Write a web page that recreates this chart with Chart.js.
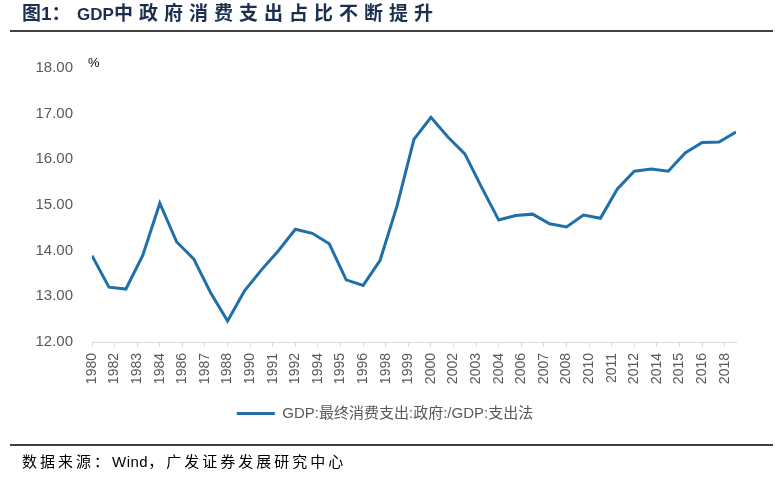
<!DOCTYPE html>
<html>
<head>
<meta charset="utf-8">
<script src="https://cdn.jsdelivr.net/npm/chart.js@4.4.1/dist/chart.umd.min.js"></script>
<style>
  html, body { margin: 0; padding: 0; background: #fff; }
  #wrap { width: 781px; height: 478px; position: relative; }
</style>
</head>
<body>
<div id="wrap"><canvas id="govChart"></canvas></div>
<script>
// ---------------------------------------------------------------------------
// Data
// ---------------------------------------------------------------------------
const years = [
  1980, 1981, 1982, 1983, 1984, 1985, 1986, 1987, 1988, 1989,
  1990, 1991, 1992, 1993, 1994, 1995, 1996, 1997, 1998, 1999,
  2000, 2001, 2002, 2003, 2004, 2005, 2006, 2007, 2008, 2009,
  2010, 2011, 2012, 2013, 2014, 2015, 2016, 2017, 2018
];
const govShare = [
  13.89, 13.20, 13.16, 13.90, 15.04, 14.19, 13.82, 13.08, 12.46, 13.12,
  13.58, 14.00, 14.47, 14.38, 14.15, 13.36, 13.24, 13.79, 14.98, 16.44,
  16.92, 16.49, 16.12, 15.38, 14.67, 14.77, 14.80, 14.59, 14.52, 14.78,
  14.71, 15.35, 15.74, 15.79, 15.74, 16.14, 16.37, 16.38, 16.60
];
// date-axis style labels (one every 4/3 year, as in the source chart)
const xTickLabels = [
  '1980', '1982', '1983', '1984', '1986', '1987', '1988', '1990', '1991', '1992',
  '1994', '1995', '1996', '1998', '1999', '2000', '2002', '2003', '2004', '2006',
  '2007', '2008', '2010', '2011', '2012', '2014', '2015', '2016', '2018'
];
const yTicks = [12, 13, 14, 15, 16, 17, 18];

const seriesName = 'GDP:最终消费支出:政府:/GDP:支出法';
const titleText = 'GDP中政府消费支出占比不断提升';
const sourceText = '数据来源：Wind，广发证券发展研究中心';

const LINE_BLUE = '#1f6fa8';
const TEXT_GREY = '#595959';
const CJK = "'Liberation Sans', Arial, 'Noto Sans CJK SC', sans-serif";

// ---------------------------------------------------------------------------
// Frame: title, rules, unit and source note
// ---------------------------------------------------------------------------
const framePlugin = {
  id: 'frame',
  afterLayout(chart) {
    // legend sits a bit right of centre in the original
    const lg = chart.legend;
    if (lg) { lg.left += 17; lg.right += 17; }
  },
  afterDraw(chart) {
    const ctx = chart.ctx;
    ctx.save();

    // title
    ctx.fillStyle = '#1b3050';
    ctx.textBaseline = 'middle';
    ctx.font = "bold 19px " + CJK;
    ctx.fillText('图', 22, 15);
    ctx.fillText('1：', 41, 15);
    ctx.font = "bold 17px " + CJK;
    ctx.fillText('GDP', 77, 15);
    ctx.font = "bold 19px " + CJK;
    let x = 114;
    for (const ch of titleText.slice(3)) {
      ctx.fillText(ch, x, 15);
      x += 25;
    }

    // rules
    ctx.strokeStyle = '#000';
    ctx.lineWidth = 1.5;
    ctx.beginPath();
    ctx.moveTo(10, 31); ctx.lineTo(773, 31);
    ctx.moveTo(10, 445); ctx.lineTo(773, 445);
    ctx.stroke();

    // unit
    ctx.fillStyle = '#000';
    ctx.font = "13px " + CJK;
    ctx.fillText('%', 88, 63);

    // source
    ctx.fillStyle = '#000';
    ctx.font = "15px " + CJK;
    x = 22;
    for (const ch of sourceText) {
      ctx.fillText(ch, x, 463);
      const w = ctx.measureText(ch).width;
      x += w + (/[A-Za-z]/.test(ch) ? 0.5 : 3);
    }
    ctx.restore();
  }
};

const ctx = document.getElementById('govChart').getContext('2d');

new Chart(ctx, {
  type: 'line',
  data: {
    datasets: [{
      label: seriesName,
      data: years.map((y, i) => ({ x: y, y: govShare[i] })),
      borderColor: LINE_BLUE,
      backgroundColor: LINE_BLUE,
      borderWidth: 3,
      pointRadius: 0,
      tension: 0,
      fill: false
    }]
  },
  options: {
    responsive: true,
    maintainAspectRatio: false,
    animation: false,
    layout: { padding: { left: 0, right: 45, top: 68, bottom: 47 } },
    plugins: {
      legend: {
        display: true,
        position: 'bottom',
        labels: {
          color: TEXT_GREY,
          font: { size: 15, family: CJK },
          boxWidth: 38,
          boxHeight: 3,
          padding: 10,
          generateLabels(chart) {
            const items = Chart.defaults.plugins.legend.labels.generateLabels(chart);
            items.forEach(it => { it.lineWidth = 0; it.fillStyle = LINE_BLUE; });
            return items;
          }
        }
      },
      tooltip: { enabled: false }
    },
    scales: {
      x: {
        type: 'linear',
        min: years[0],
        max: years[years.length - 1],
        afterBuildTicks(scale) {
          scale.ticks = xTickLabels.map((_, i) => ({ value: years[0] + i * 4 / 3 }));
        },
        afterFit(scale) { scale.height = 54; },
        border: { display: true, color: '#d9d9d9', width: 1 },
        grid: { drawOnChartArea: false, drawTicks: true, tickLength: 5, color: '#d9d9d9' },
        ticks: {
          autoSkip: false,
          maxRotation: 90,
          minRotation: 90,
          padding: 6,
          color: TEXT_GREY,
          font: { size: 14, family: CJK },
          callback(value, index) { return xTickLabels[index]; }
        }
      },
      y: {
        min: yTicks[0],
        max: yTicks[yTicks.length - 1],
        afterBuildTicks(scale) {
          scale.ticks = yTicks.map(v => ({ value: v }));
        },
        afterFit(scale) { scale.width = 92; },
        border: { display: false },
        grid: { display: false, drawTicks: false },
        ticks: {
          padding: 19,
          color: TEXT_GREY,
          font: { size: 15, family: CJK },
          callback(value) { return value.toFixed(2); }
        }
      }
    }
  },
  plugins: [framePlugin]
});
</script>
</body>
</html>
